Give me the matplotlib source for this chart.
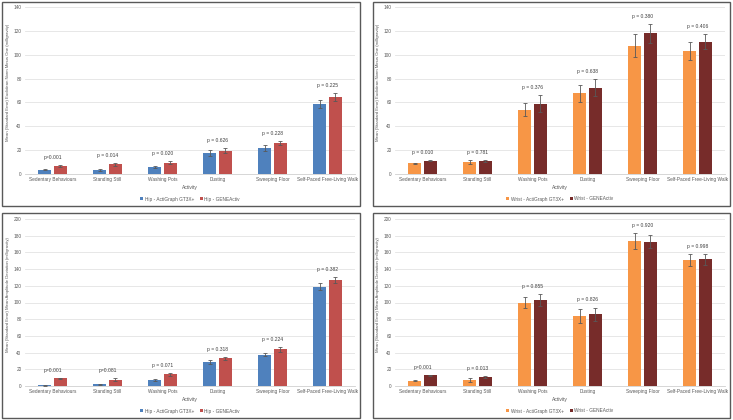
import numpy as np
import matplotlib
matplotlib.use("Agg")
import matplotlib.pyplot as plt
from matplotlib.patches import Rectangle

plt.rcParams["font.family"] = ["Liberation Sans Narrow", "Liberation Sans", "DejaVu Sans"]

activities = ["Sedentary Behaviours", "Standing Still", "Washing Pots",
              "Dusting", "Sweeping Floor", "Self-Paced Free-Living Walk"]

# hip ENMO
hip_enmo_ag = [3.5, 3.5, 5.5, 18, 22, 58.5]
hip_enmo_ag_se = [0.5, 0.8, 0.8, 2.5, 2.5, 3.5]
hip_enmo_ge = [6.5, 8, 9.5, 19.5, 26, 64.5]
hip_enmo_ge_se = [0.8, 1.5, 1.5, 2, 2, 3.5]
hip_enmo_p = ["p=0.001", "p = 0.014", "p = 0.020", "p = 0.626", "p = 0.228", "p = 0.225"]

# wrist ENMO
wr_enmo_ag = [9, 10, 54, 67.5, 107.5, 103]
wr_enmo_ag_se = [0.5, 2, 5.5, 7.5, 9.5, 7.5]
wr_enmo_ge = [11, 11, 59, 72.5, 118, 111]
wr_enmo_ge_se = [0.5, 1, 7, 7.5, 8, 6]
wr_enmo_p = ["p = 0.010", "p = 0.781", "p = 0.376", "p = 0.638", "p = 0.380", "p = 0.406"]

# hip MAD
hip_mad_ag = [1, 2, 7, 29, 37.5, 119]
hip_mad_ag_se = [0.5, 0.5, 1, 2.5, 2, 4.5]
hip_mad_ge = [9, 7.5, 14, 33, 44, 127]
hip_mad_ge_se = [0.8, 1.5, 2, 1.5, 3, 4]
hip_mad_p = ["p=0.001", "p=0.081", "p = 0.071", "p = 0.318", "p = 0.224", "p = 0.382"]

# wrist MAD
wr_mad_ag = [6.5, 7.5, 100, 84, 174, 151]
wr_mad_ag_se = [1, 2.5, 6, 8, 9.5, 7.5]
wr_mad_ge = [13, 11, 103, 86, 173, 151.5]
wr_mad_ge_se = [0.5, 1.5, 7, 8, 8, 6]
wr_mad_p = ["p=0.001", "p = 0.013", "p = 0.855", "p = 0.826", "p = 0.920", "p = 0.998"]

blue, red = "#4F81BD", "#C0504D"
orange, maroon = "#F79646", "#772C2A"

panels = [
    (hip_enmo_ag, hip_enmo_ag_se, hip_enmo_ge, hip_enmo_ge_se, hip_enmo_p, 140,
     "Mean (Standard Error) Euclidean Norm Minus One (milligravity)",
     "Hip - ActiGraph GT3X+", "Hip - GENEActiv", blue, red),
    (wr_enmo_ag, wr_enmo_ag_se, wr_enmo_ge, wr_enmo_ge_se, wr_enmo_p, 140,
     "Mean (Standard Error) Euclidean Norm Minus One (milligravity)",
     "Wrist - ActiGraph GT3X+", "Wrist - GENEActiv", orange, maroon),
    (hip_mad_ag, hip_mad_ag_se, hip_mad_ge, hip_mad_ge_se, hip_mad_p, 200,
     "Mean (Standard Error) Mean Amplitude Deviation (milligravity)",
     "Hip - ActiGraph GT3X+", "Hip - GENEActiv", blue, red),
    (wr_mad_ag, wr_mad_ag_se, wr_mad_ge, wr_mad_ge_se, wr_mad_p, 200,
     "Mean (Standard Error) Mean Amplitude Deviation (milligravity)",
     "Wrist - ActiGraph GT3X+", "Wrist - GENEActiv", orange, maroon),
]

W, H = 733, 420
fig = plt.figure(figsize=(W / 100, H / 100), dpi=100)

# panel boxes (pixels: left, top, right, bottom) and plot areas
boxes = [(2, 2, 360, 206), (373, 2, 730, 206), (2, 213, 360, 418), (373, 213, 730, 418)]
areas = [(25, 7, 355, 174), (395, 7, 725, 174), (25, 219, 355, 386), (395, 219, 725, 386)]

for b in boxes:
    fig.patches.append(Rectangle((b[0] / W, 1 - b[3] / H), (b[2] - b[0]) / W, (b[3] - b[1]) / H,
                                 transform=fig.transFigure, fill=False,
                                 edgecolor="#595959", linewidth=1.0))

x = np.arange(len(activities))
bw = 0.24
off = 0.145
for (ag, ag_se, ge, ge_se, pv, ymax, ylab, l1, l2, c1, c2), a, b in zip(panels, areas, boxes):
    ax = fig.add_axes([a[0] / W, 1 - a[3] / H, (a[2] - a[0]) / W, (a[3] - a[1]) / H])
    ekw = dict(elinewidth=0.6, capthick=0.6, ecolor="#595959")
    ax.bar(x - off, ag, bw, yerr=ag_se, color=c1, capsize=1.2, error_kw=ekw, label=l1, zorder=3)
    ax.bar(x + off, ge, bw, yerr=ge_se, color=c2, capsize=1.2, error_kw=ekw, label=l2, zorder=3)
    for i in range(len(activities)):
        top = max(ag[i] + ag_se[i], ge[i] + ge_se[i])
        ax.text(x[i], top + ymax * 0.03, pv[i], ha="center", va="bottom",
                fontsize=3.6, color="#404040")
    ax.set_xlim(-0.5, len(activities) - 0.5)
    ax.set_ylim(0, ymax)
    ax.set_yticks(np.arange(0, ymax + 1, 20))
    ax.set_xticks(x)
    ax.set_xticklabels(activities)
    ax.tick_params(axis="both", labelsize=3.4, colors="#595959", length=0, pad=2.5)
    ax.yaxis.grid(True, color="#E3E3E3", linewidth=0.6, zorder=0)
    for s in ["top", "right", "left"]:
        ax.spines[s].set_visible(False)
    ax.spines["bottom"].set_color("#D0D0D0")
    ax.spines["bottom"].set_linewidth(0.6)
    ax.set_xlabel("Activity", fontsize=3.6, color="#595959", labelpad=2)
    ax.set_ylabel(ylab, fontsize=3.1, color="#595959", labelpad=4)
    ax.yaxis.set_label_coords(-0.045, 0.55)
    cx = ((a[0] + a[2]) / 2) / W
    ax.legend(loc="center", bbox_to_anchor=(cx, 1 - (b[3] - 7) / H),
              bbox_transform=fig.transFigure, ncol=2, frameon=False,
              fontsize=3.4, handlelength=0.6, handleheight=0.6, columnspacing=1.2,
              handletextpad=0.4, labelcolor="#595959")

fig.savefig("out.png", dpi=100)
